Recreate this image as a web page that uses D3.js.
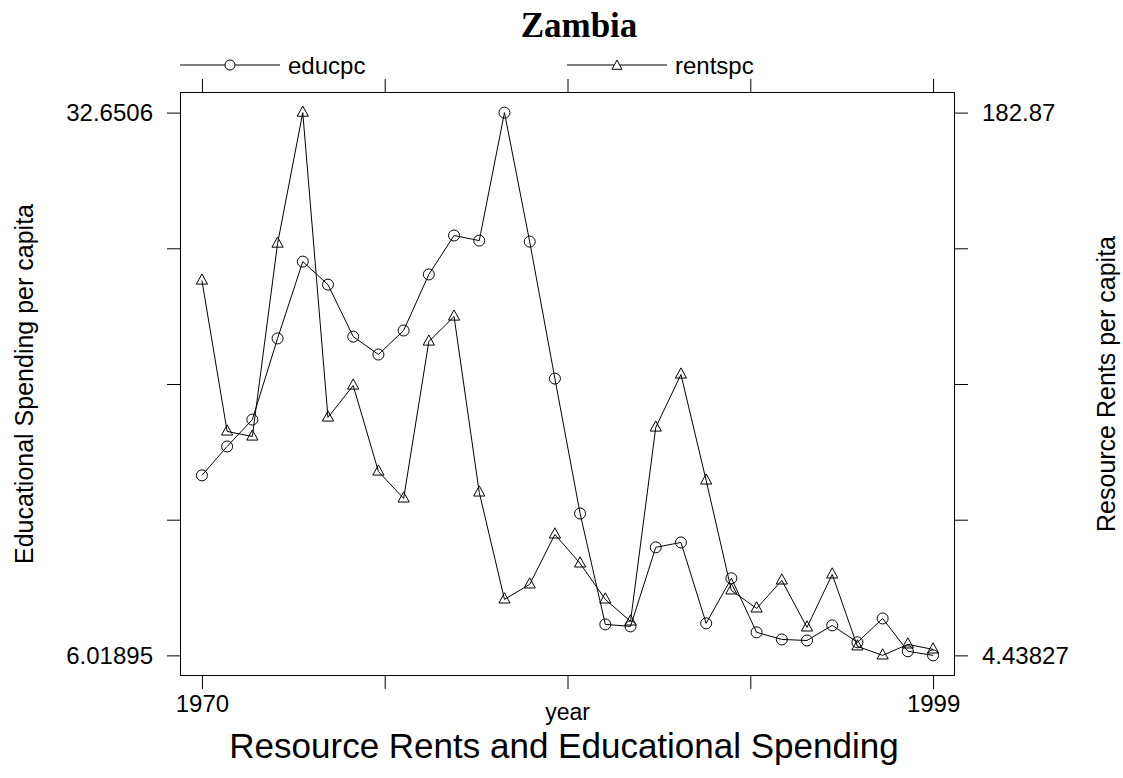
<!DOCTYPE html>
<html>
<head>
<meta charset="utf-8">
<script src="https://cdn.jsdelivr.net/npm/d3@7"></script>
<style>
  html, body { margin: 0; padding: 0; background: #fff; }
  svg { display: block; }
  text { font-family: "Liberation Sans", Arial, Helvetica, sans-serif; fill: #000; }
</style>
</head>
<body>
<svg id="chart" width="1123" height="778"></svg>
<script>
// Zambia: educational spending and resource rents per capita, 1970-1999
const years = [1970, 1971, 1972, 1973, 1974, 1975, 1976, 1977, 1978, 1979,
               1980, 1981, 1982, 1983, 1984, 1985, 1986, 1987, 1988, 1989,
               1990, 1991, 1992, 1993, 1994, 1995, 1996, 1997, 1998, 1999];

const educpc = [14.85, 16.27, 17.59, 21.57, 25.34, 24.21, 21.66, 20.78, 21.96, 24.71,
                26.62, 26.37, 32.6506, 26.32, 19.60, 12.98, 7.54, 7.44, 11.32, 11.56,
                7.59, 9.80, 7.15, 6.80, 6.75, 7.49, 6.66, 7.83, 6.22, 6.01895];

const rentspc = [127.67, 78.05, 76.40, 139.82, 182.87, 82.65, 93.16, 64.90, 56.03, 107.62,
                 115.84, 58.00, 22.84, 27.77, 44.20, 34.67, 22.84, 15.61, 79.36, 96.78,
                 61.95, 25.80, 19.88, 29.08, 13.64, 31.06, 7.40, 4.43827, 8.05, 6.41];

// axis ticks: five evenly spaced, only the ends labelled
const xTicks = [1970, 1977.25, 1984.5, 1991.75, 1999];
const xTickLabels = ["1970", "", "", "", "1999"];
const leftTicks = [6.01895, 12.67686, 19.33477, 25.99268, 32.6506];
const leftTickLabels = ["6.01895", "", "", "", "32.6506"];
const rightTicks = [4.43827, 49.0462, 93.65414, 138.26207, 182.87];
const rightTickLabels = ["4.43827", "", "", "", "182.87"];

const seriesNames = ["educpc", "rentspc"];

const svg = d3.select("#chart");
const frame = { left: 180, right: 955, top: 92, bottom: 676 };

function padded(lo, hi, f) {
  const r = hi - lo;
  return [lo - r * f, hi + r * f];
}

const x = d3.scaleLinear()
  .domain(padded(d3.min(years), d3.max(years), 0.03))
  .range([frame.left, frame.right]);

const yL = d3.scaleLinear()
  .domain(padded(d3.min(educpc), d3.max(educpc), 0.038))
  .range([frame.bottom, frame.top]);

const yR = d3.scaleLinear()
  .domain(padded(d3.min(rentspc), d3.max(rentspc), 0.038))
  .range([frame.bottom, frame.top]);

// panel frame
svg.append("rect")
  .attr("x", frame.left + 0.5).attr("y", frame.top + 0.5)
  .attr("width", frame.right - frame.left - 1)
  .attr("height", frame.bottom - frame.top - 1)
  .attr("fill", "none").attr("stroke", "#000").attr("stroke-width", 1);

const tickLen = 13;
const tickPad = 14;

// bottom axis
const bottomAxis = d3.axisBottom(x)
  .tickValues(xTicks)
  .tickFormat((d, i) => xTickLabels[i])
  .tickSizeInner(tickLen).tickSizeOuter(0).tickPadding(6);
const gB = svg.append("g").attr("transform", `translate(0,${frame.bottom})`).call(bottomAxis);

// top axis (ticks only)
const topAxis = d3.axisTop(x)
  .tickValues(xTicks).tickFormat(() => "")
  .tickSizeInner(tickLen).tickSizeOuter(0);
const gT = svg.append("g").attr("transform", `translate(0,${frame.top})`).call(topAxis);

// left axis
const leftAxis = d3.axisLeft(yL)
  .tickValues(leftTicks)
  .tickFormat((d, i) => leftTickLabels[i])
  .tickSizeInner(tickLen).tickSizeOuter(0).tickPadding(tickPad);
const gL = svg.append("g").attr("transform", `translate(${frame.left},0)`).call(leftAxis);

// right axis
const rightAxis = d3.axisRight(yR)
  .tickValues(rightTicks)
  .tickFormat((d, i) => rightTickLabels[i])
  .tickSizeInner(tickLen).tickSizeOuter(0).tickPadding(tickPad);
const gR = svg.append("g").attr("transform", `translate(${frame.right},0)`).call(rightAxis);

[gB, gT, gL, gR].forEach(g => {
  g.select(".domain").remove();
  g.selectAll(".tick line").attr("stroke", "#000").attr("stroke-width", 1);
  g.selectAll(".tick text")
    .attr("font-family", "Liberation Sans, Arial, sans-serif")
    .attr("font-size", 24).attr("fill", "#000");
});
gB.selectAll(".tick text").attr("dy", "0.71em");

// series lines and symbols
const lineL = d3.line().x((d, i) => x(years[i])).y(d => yL(d));
const lineR = d3.line().x((d, i) => x(years[i])).y(d => yR(d));

const triPath = "M0,-6.6L5.6,3.6L-5.6,3.6Z";

svg.append("path").datum(educpc)
  .attr("d", lineL).attr("fill", "none").attr("stroke", "#000").attr("stroke-width", 1);
svg.append("path").datum(rentspc)
  .attr("d", lineR).attr("fill", "none").attr("stroke", "#000").attr("stroke-width", 1);

svg.append("g").selectAll("circle").data(educpc).join("circle")
  .attr("cx", (d, i) => x(years[i])).attr("cy", d => yL(d)).attr("r", 5.5)
  .attr("fill", "none").attr("stroke", "#000").attr("stroke-width", 1);

svg.append("g").selectAll("path").data(rentspc).join("path")
  .attr("transform", (d, i) => `translate(${x(years[i])},${yR(d)})`)
  .attr("d", triPath)
  .attr("fill", "none").attr("stroke", "#000").attr("stroke-width", 1);

// legend across the top
const legendY = 65;
const legend = [
  { name: seriesNames[0], x0: 180, shape: "circle" },
  { name: seriesNames[1], x0: 567, shape: "triangle" }
];
legend.forEach(l => {
  const g = svg.append("g").attr("transform", `translate(${l.x0},${legendY})`);
  g.append("line").attr("x1", 0).attr("x2", 100).attr("y1", 0).attr("y2", 0)
    .attr("stroke", "#000").attr("stroke-width", 1);
  if (l.shape === "circle") {
    g.append("circle").attr("cx", 50).attr("cy", 0).attr("r", 5)
      .attr("fill", "#fff").attr("stroke", "#000");
  } else {
    g.append("path").attr("transform", "translate(50,1)").attr("d", "M0,-6L5,3.3L-5,3.3Z")
      .attr("fill", "#fff").attr("stroke", "#000");
  }
  g.append("text").attr("x", 108).attr("y", 8.5)
    .attr("font-size", 24).text(l.name);
});

// titles
svg.append("text").attr("x", 579).attr("y", 37).attr("text-anchor", "middle")
  .style("font-family", "'Liberation Serif', 'Times New Roman', serif")
  .attr("font-weight", "bold").attr("font-size", 35).text("Zambia");

svg.append("text").attr("x", (frame.left + frame.right) / 2).attr("y", 720)
  .attr("text-anchor", "middle").attr("font-size", 23).text("year");

svg.append("text").attr("x", 564).attr("y", 758)
  .attr("text-anchor", "middle").attr("font-size", 35)
  .text("Resource Rents and Educational Spending");

const midY = (frame.top + frame.bottom) / 2;
svg.append("text").attr("transform", `translate(33,${midY}) rotate(-90)`)
  .attr("text-anchor", "middle").attr("font-size", 25)
  .text("Educational Spending per capita");

svg.append("text").attr("transform", `translate(1115,${midY}) rotate(-90)`)
  .attr("text-anchor", "middle").attr("font-size", 25)
  .text("Resource Rents per capita");
</script>
</body>
</html>
